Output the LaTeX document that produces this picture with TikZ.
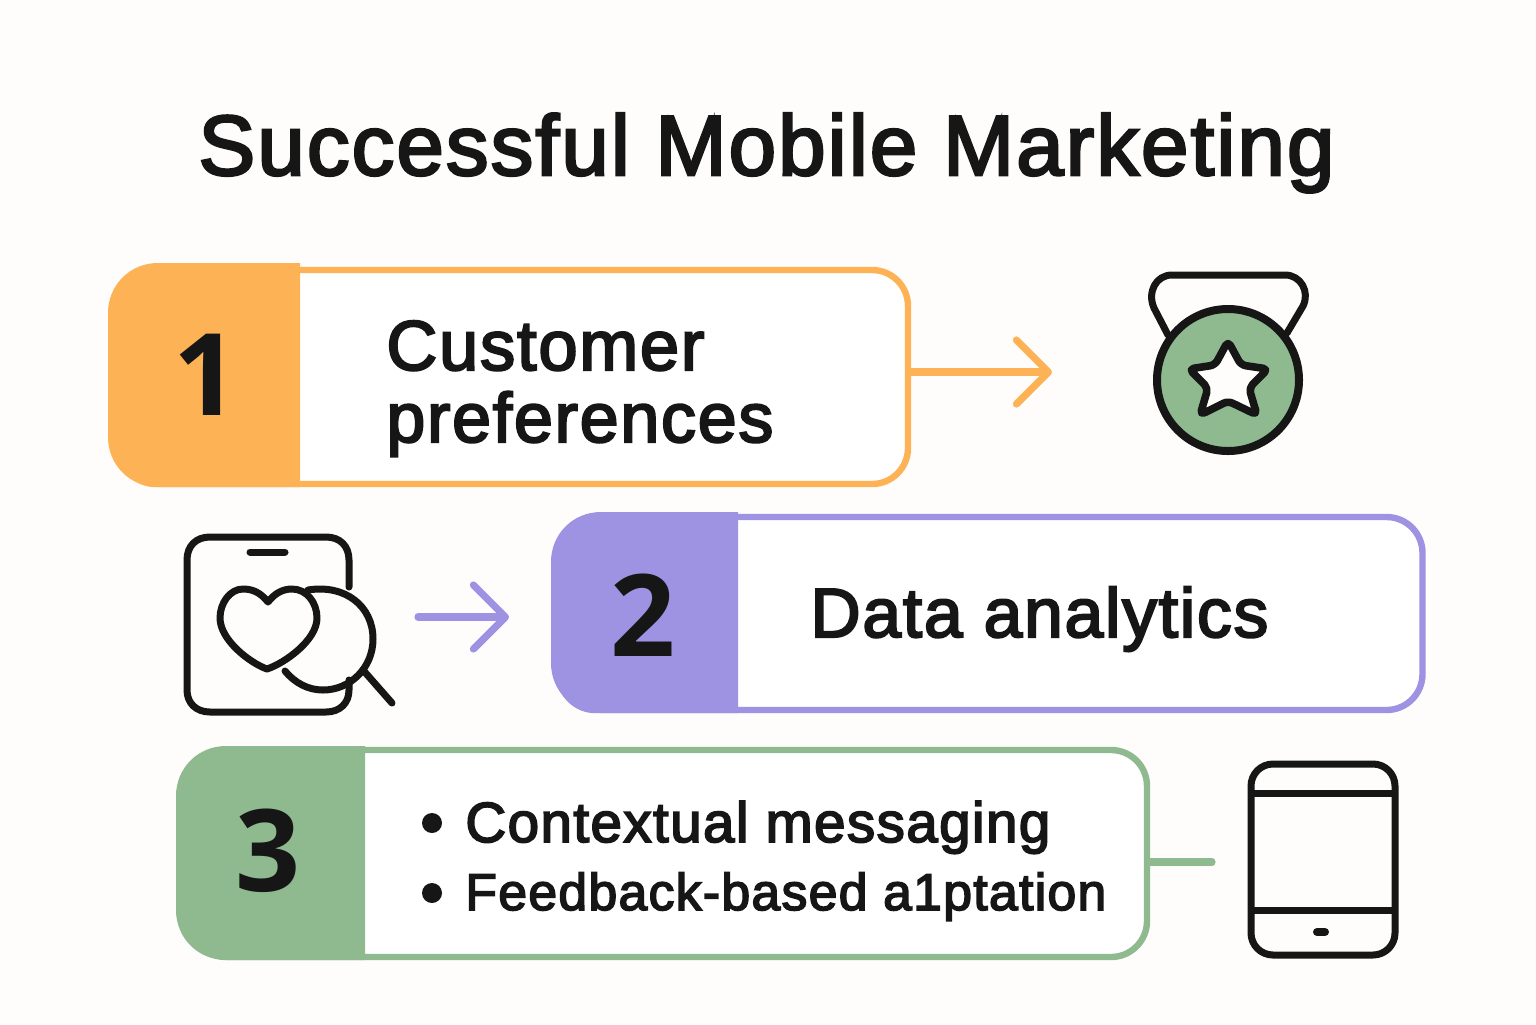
\documentclass[tikz,border=0pt]{standalone}
\usepackage{fontspec}
\usepackage{graphicx}
\setmainfont{Liberation Sans}[FakeBold=3,LetterSpace=2.5]
\newfontfamily\numfont{Open Sans}[Weight=Bold]
\usetikzlibrary{arrows.meta}
\definecolor{bgc}{HTML}{FEFDFB}
\definecolor{ink}{HTML}{161616}
\definecolor{oran}{HTML}{FDB355}
\definecolor{purp}{HTML}{9E92E2}
\definecolor{gren}{HTML}{8FBA90}
\newcommand{\fitw}[2]{\resizebox{#1}{!}{#2}}
\tikzset{
  panel/.style={rectangle,fill=white,line width=3.2pt,inner sep=0pt},
  label/.style={anchor=base west,inner sep=0pt,text=ink},
  numeral/.style={anchor=center,inner sep=0pt,text=ink,font=\bfseries\numfont\fontsize{57}{57}\selectfont},
  icon/.style={draw=ink,line width=3.5pt,line cap=round,line join=round},
  conn/.style={line width=3.6pt,line cap=round},
  barb/.style={-{Straight Barb[length=16pt,width=32pt,round]}},
}
\begin{document}
\begin{tikzpicture}[x=0.5pt,y=-0.5pt]
\useasboundingbox (0,0) rectangle (1536,1024);
\fill[bgc] (0,0) rectangle (1536,1024);
\node[label] (title) at (198,175) {\fitw{568pt}{Successful Mobile Marketing}};

% panel 1
\node[panel,draw=oran,rounded corners=18pt,minimum width=394pt,minimum height=107pt] (p1) at (514,377) {};
\fill[oran] (300,263) -- (158,263) .. controls (130,263) and (108,285) .. (108,313) -- (108,437) .. controls (108,465) and (130,487) .. (158,487) -- (300,487) -- cycle;
\node[numeral] (n1) at (206,375) {1};
\node[label] (t1a) at (386,370) {\fitw{159pt}{Customer}};
\node[label] (t1b) at (386,442) {\fitw{193.5pt}{preferences}};

% panel 2
\node[panel,draw=purp,rounded corners=18pt,minimum width=431.5pt,minimum height=96.5pt] (p2) at (991,613.5) {};
\fill[purp] (738,512) -- (601,512) .. controls (573,512) and (551,534) .. (551,562) -- (551,663) .. controls (551,691) and (573,713) .. (601,713) -- (738,713) -- cycle;
\node[numeral] (n2) at (643,615) {2};
\node[label] (t2) at (810,637) {\fitw{229pt}{Data analytics}};

% panel 3
\node[panel,draw=gren,rounded corners=18pt,minimum width=478pt,minimum height=103.5pt] (p3) at (669,853.5) {};
\fill[gren] (365,746) -- (226,746) .. controls (198,746) and (176,768) .. (176,796) -- (176,910) .. controls (176,938) and (198,960) .. (226,960) -- (365,960) -- cycle;
\node[numeral] (n3) at (268,851) {3};
\fill[ink] (432,823) circle (10);
\fill[ink] (432,893) circle (10);
\node[label] (t3a) at (465,842) {\fitw{292.5pt}{Contextual messaging}};
\node[label] (t3b) at (465,910) {\fitw{320.5pt}{Feedback-based a1ptation}};

% connectors
\coordinate (a1e) at (1052,372);
\coordinate (a2s) at (418,617);
\coordinate (a2e) at (509,617);
\coordinate (l3e) at (1212,862);
\draw[conn,oran,barb] (p1.east |- a1e) -- (a1e);
\draw[conn,purp,barb] (a2s) -- (a2e);
\draw[conn,gren] (p3.east |- l3e) -- (l3e);

% medal
\draw[icon] (1168,335) -- (1154,308) .. controls (1147,292) and (1156,275) .. (1172,275) -- (1285,275) .. controls (1301,275) and (1310,292) .. (1303,306) -- (1287,333);
\draw[icon,line width=4pt,fill=gren] (1228,380) circle (71);
\draw[icon,line width=3.8pt,fill=bgc,rounded corners=2.5pt] (1228,341) -- (1241,365) -- (1268,369) -- (1249,388) -- (1257,415) -- (1228,401) -- (1200,415) -- (1208,388) -- (1189,369) -- (1215,365) -- cycle;

% phone with heart and magnifier
\draw[icon] (349,587) -- (349,560) .. controls (349,546) and (340,537) .. (326,537) -- (210,537) .. controls (196,537) and (187,546) .. (187,560) -- (187,690) .. controls (187,703) and (196,712) .. (210,712) -- (326,712) .. controls (340,712) and (349,703) .. (349,690) -- (349,680);
\draw[icon] (250,552) -- (285,552);
\draw[icon] (308,590) .. controls (345,584) and (373,606) .. (373,639) .. controls (373,668) and (350,690) .. (323,690) .. controls (308,690) and (295,683) .. (285,671);
\draw[icon] (363,670) -- (392,703);
\draw[icon] (268,602) .. controls (260,592) and (252,589) .. (243,589) .. controls (230,589) and (220,603) .. (220,618) .. controls (220,640) and (250,663) .. (267,669) .. controls (285,663) and (317,640) .. (317,618) .. controls (317,603) and (307,589) .. (292,589) .. controls (283,589) and (275,593) .. (268,602) -- cycle;

% tablet
\draw[icon,rounded corners=11pt] (1251,764) rectangle (1395,955);
\draw[icon,line cap=butt] (1251,793) -- (1395,793);
\draw[icon,line cap=butt] (1251,910) -- (1395,910);
\draw[icon,line width=4pt] (1317,932) -- (1325,932);
\end{tikzpicture}
\end{document}
